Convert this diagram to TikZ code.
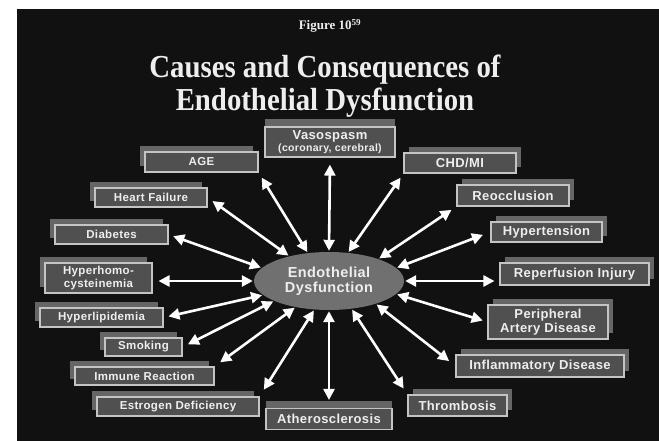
\documentclass[tikz,border=0pt]{standalone}
\usepackage{fontspec}
\usepackage{graphicx}
\usetikzlibrary{arrows.meta,shapes.geometric,shadows}
\setmainfont{Liberation Serif}
\newfontfamily\lblfont[LetterSpace=3.0]{Liberation Sans}
\definecolor{panel}{HTML}{111111}
\definecolor{boxfill}{HTML}{505050}
\definecolor{boxline}{HTML}{C4C4C4}
\definecolor{shade}{HTML}{666666}
\definecolor{txt}{HTML}{EEEEEE}
\definecolor{ellfill}{HTML}{707070}
\tikzset{
  lbl/.style={draw=boxline, line width=1.1pt, fill=boxfill, text=txt, inner sep=0pt, align=center},
  lsh/.style={general shadow={fill=shade, shadow xshift=-5pt, shadow yshift=6pt}},
  rsh/.style={general shadow={fill=shade, shadow xshift=5pt, shadow yshift=6pt}},
  csh/.style={general shadow={fill=shade, shadow yshift=8pt}},
  lsize/.style={font=\lblfont\bfseries\fontsize{11.5}{12.5}\selectfont},
  rsize/.style={font=\lblfont\bfseries\fontsize{13}{14}\selectfont},
  arr/.style={draw=white, line width=2.6pt, {Triangle[length=11pt,width=11pt]}-{Triangle[length=11pt,width=11pt]}, shorten <=1pt},
  ttl/.style={text=txt, inner sep=0pt, anchor=base},
}
\begin{document}
\begin{tikzpicture}[x=1pt,y=-1pt]
\useasboundingbox (0,0) rectangle (659,441);
\fill[white] (0,0) rectangle (659,441);
\fill[panel] (17,9) rectangle (659,441);

% titles
\node[ttl, font=\bfseries\fontsize{13}{15}\selectfont] (fig) at (330,30) {Figure 10\textsuperscript{59}};
\node[ttl, font=\bfseries\fontsize{32}{34}\selectfont] (t1) at (325,78) {\scalebox{0.9}[1]{Causes and Consequences of}};
\node[ttl, font=\bfseries\fontsize{32}{34}\selectfont] (t2) at (325,111) {\scalebox{0.9}[1]{Endothelial Dysfunction}};

% centre
\node[ellipse, fill=ellfill, minimum width=150pt, minimum height=58pt, inner sep=0pt, text=txt,
      font=\lblfont\bfseries\fontsize{14.5}{15.5}\selectfont, align=center] (ell) at (329,281) {Endothelial\\Dysfunction};

% boxes, left
\node[lbl, lsh, lsize, minimum width=113pt, minimum height=20pt] (age) at (201.5,162) {AGE};
\node[lbl, lsh, lsize, minimum width=112pt, minimum height=19pt] (hf) at (151,197.5) {Heart Failure};
\node[lbl, lsh, lsize, minimum width=113pt, minimum height=19pt] (diab) at (111.5,234.5) {Diabetes};
\node[lbl, lsh, lsize, minimum width=107pt, minimum height=30pt] (hh) at (98.5,278) {Hyperhomo-\\cysteinemia};
\node[lbl, lsh, lsize, minimum width=123pt, minimum height=19pt] (hl) at (101.5,317.5) {Hyperlipidemia};
\node[lbl, lsh, lsize, minimum width=77pt, minimum height=18pt] (sm) at (143.5,347) {Smoking};
\node[lbl, lsh, lsize, minimum width=139pt, minimum height=18pt] (im) at (144.5,376) {Immune Reaction};
\node[lbl, lsh, lsize, minimum width=162pt, minimum height=19pt] (es) at (178,406.5) {Estrogen Deficiency};

% boxes, centre
\node[lbl, csh, rsize, minimum width=130pt, minimum height=30pt] (vaso) at (330,142) {Vasospasm\\[-2pt]{\fontsize{10.5}{11}\selectfont (coronary, cerebral)}};
\node[lbl, csh, rsize, minimum width=126pt, minimum height=21pt] (ath) at (329,419) {Atherosclerosis};

% boxes, right
\node[lbl, rsh, rsize, minimum width=112pt, minimum height=20pt] (chd) at (460,163) {CHD/MI};
\node[lbl, rsh, rsize, minimum width=112pt, minimum height=21pt] (ro) at (513,195.5) {Reocclusion};
\node[lbl, rsh, rsize, minimum width=111pt, minimum height=20pt] (ht) at (546.5,232) {Hypertension};
\node[lbl, rsh, rsize, minimum width=149pt, minimum height=22pt] (rp) at (574.5,274) {Reperfusion Injury};
\node[lbl, rsh, rsize, minimum width=120pt, minimum height=34pt] (pa) at (548,322) {Peripheral\\Artery Disease};
\node[lbl, rsh, rsize, minimum width=168pt, minimum height=22pt] (inf) at (540,366) {Inflammatory Disease};
\node[lbl, rsh, rsize, minimum width=99pt, minimum height=21pt] (th) at (457.5,405.5) {Thrombosis};

% arrows
\draw[arr, shorten >=7pt] (ell.north) -- (vaso.south);
\draw[arr, shorten >=6pt] (ell.127) -- (age.south east);
\draw[arr, shorten >=6pt] (ell.148) -- (hf.east);
\draw[arr, shorten >=5pt] (ell.169) -- (diab.east);
\draw[arr, shorten >=6pt] (ell.west) -- (ell.west -| hh.east);
\draw[arr, shorten >=5pt] (ell.192) -- (hl.east);
\draw[arr, shorten >=6pt] (ell.200) -- (sm.east);
\draw[arr, shorten >=7pt] (ell.218) -- (im.north east);
\draw[arr, shorten >=8pt] (ell.243) -- (es.north east);
\draw[arr, shorten >=8pt] (ell.south) -- (ath.north);
\draw[arr, shorten >=7pt] (ell.309) -- (th.north west);
\draw[arr, shorten >=8pt] (ell.334) -- (inf.west);
\draw[arr, shorten >=5pt] (ell.349) -- (pa.west);
\draw[arr, shorten >=5pt] (ell.east) -- (ell.east -| rp.west);
\draw[arr, shorten >=8pt] (ell.11) -- (ht.west);
\draw[arr, shorten >=6pt] (ell.24) -- (ro.south west);
\draw[arr, shorten >=5pt] (ell.56) -- (chd.south west);
\end{tikzpicture}
\end{document}
